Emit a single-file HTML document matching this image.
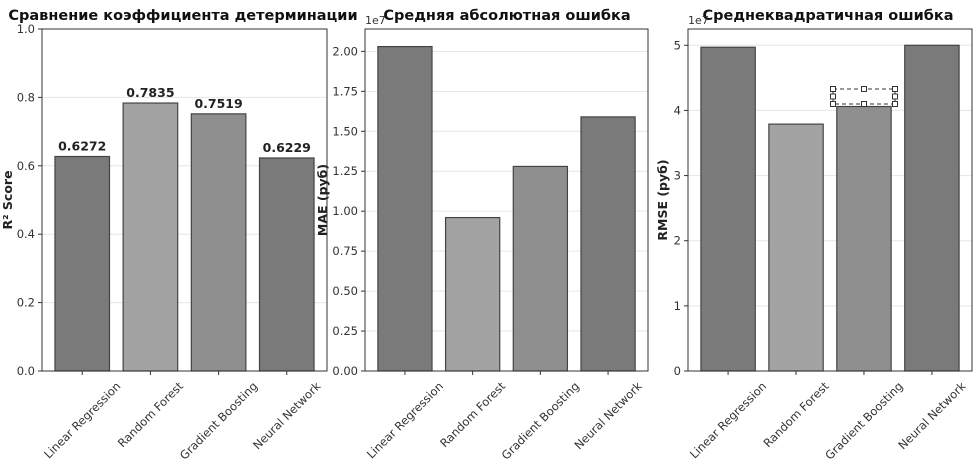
<!DOCTYPE html>
<html><head><meta charset="utf-8"><style>
body{margin:0;background:#fff;width:980px;height:461px;overflow:hidden}
svg{font-family:"DejaVu Sans","Liberation Sans",sans-serif}
</style></head><body>
<svg id="c" width="980" height="461"></svg>
<script>
const categories=["Linear Regression","Random Forest","Gradient Boosting","Neural Network"];
const r2Values=[0.6272,0.7835,0.7519,0.6229];
const r2Labels=["0.6272","0.7835","0.7519","0.6229"];
const maeValues=[2.03,0.96,1.28,1.59];
const rmseValues=[4.97,3.79,4.06,5.00];
const r2Ticks=[0,0.2,0.4,0.6,0.8,1.0];
const r2TickLabels=["0.0","0.2","0.4","0.6","0.8","1.0"];
const maeTicks=[0,0.25,0.5,0.75,1.0,1.25,1.5,1.75,2.0];
const maeTickLabels=["0.00","0.25","0.50","0.75","1.00","1.25","1.50","1.75","2.00"];
const rmseTicks=[0,1,2,3,4,5];
const rmseTickLabels=["0","1","2","3","4","5"];
const colors=["#7a7a7a","#a3a3a3","#8f8f8f","#7a7a7a"];

const NS="http://www.w3.org/2000/svg";
const svg=document.getElementById('c');
function mk(tag,attrs,parent,text){const e=document.createElementNS(NS,tag);for(const k in attrs)e.setAttribute(k,attrs[k]);if(text!==undefined)e.textContent=text;(parent||svg).appendChild(e);return e;}

const panels=[
 {key:'r2',x0:42,x1:327,max:1.0,vals:r2Values,ticks:r2Ticks,tl:r2TickLabels,title:"Сравнение коэффициента детерминации",tx:183,ylab:"R² Score",ylx:12,exp:false,labels:r2Labels},
 {key:'mae',x0:365,x1:648,max:2.14,vals:maeValues,ticks:maeTicks,tl:maeTickLabels,title:"Средняя абсолютная ошибка",tx:507,ylab:"MAE (руб)",ylx:327,exp:true},
 {key:'rmse',x0:688,x1:972,max:5.25,vals:rmseValues,ticks:rmseTicks,tl:rmseTickLabels,title:"Среднеквадратичная ошибка",tx:828,ylab:"RMSE (руб)",ylx:667,exp:true}
];
const yTop=29,yBot=371;
panels.forEach(p=>{
 const g=mk('g',{});
 
 
 const y=v=>yBot-(v/p.max)*(yBot-yTop);
 const w=p.x1-p.x0, m=0.59, step=w/(3+2*m), bw=step*0.8;
 const xc=i=>p.x0+step*(m+i);
 p.ticks.forEach((t,i)=>{
  const yy=y(t);
  const gl=mk('line',{x1:p.x0,x2:p.x1,y1:yy,y2:yy,stroke:'#e6e6e6','stroke-width':1},g);
  
  
  mk('line',{x1:p.x0-4,x2:p.x0,y1:yy,y2:yy,stroke:'#333'},g);
  const tl=mk('text',{x:p.x0-7,y:yy+4,'text-anchor':'end','font-size':11.5,fill:'#333'},g,p.tl[i]);
  
  
 });
 p.vals.forEach((v,i)=>{
  const r=mk('rect',{x:xc(i)-bw/2,y:y(v),width:bw,height:yBot-y(v),fill:colors[i],stroke:'#444','stroke-width':1.2},g);
  
  
  if(p.labels){
   const t=mk('text',{x:xc(i),y:y(v)-6,'text-anchor':'middle','font-size':12.5,'font-weight':'bold',fill:'#222'},g,p.labels[i]);
   
   
  }
  mk('line',{x1:xc(i),x2:xc(i),y1:yBot,y2:yBot+4,stroke:'#333'},g);
  const xl=mk('text',{'text-anchor':'middle','dominant-baseline':'central','font-size':11.5,fill:'#333'},g,categories[i]);
  
  
  const L=xl.getComputedTextLength();
  const half=(L*0.7071+12)/2;
  xl.setAttribute('transform',`translate(${xc(i)},${yBot+7+half}) rotate(-45)`);
 });
 const fr=mk('rect',{x:p.x0,y:yTop,width:w,height:yBot-yTop,fill:'none',stroke:'#333','stroke-width':1},g);
 
 
 const ti=mk('text',{x:p.tx,y:20,'text-anchor':'middle','font-size':14.5,'font-weight':'bold',fill:'#111'},g,p.title);
 
 
 const yl=mk('text',{transform:`translate(${p.ylx},${(yTop+yBot)/2}) rotate(-90)`,'text-anchor':'middle','font-size':12.5,'font-weight':'bold',fill:'#222'},g,p.ylab);
 
 
 if(p.exp){
  const ex=mk('text',{x:p.x0,y:yTop-5,'font-size':11,fill:'#333'},g,'1e7');
  
  
 }
});
const sb=mk('g',{});


mk('rect',{x:833,y:89,width:62,height:15,fill:'none',stroke:'#333','stroke-dasharray':'4,3'},sb);
[[833,89],[864,89],[895,89],[833,96.5],[895,96.5],[833,104],[864,104],[895,104]].forEach(([a,b])=>mk('rect',{x:a-2.5,y:b-2.5,width:5,height:5,fill:'#fff',stroke:'#333'},sb));
</script>
</body></html>
